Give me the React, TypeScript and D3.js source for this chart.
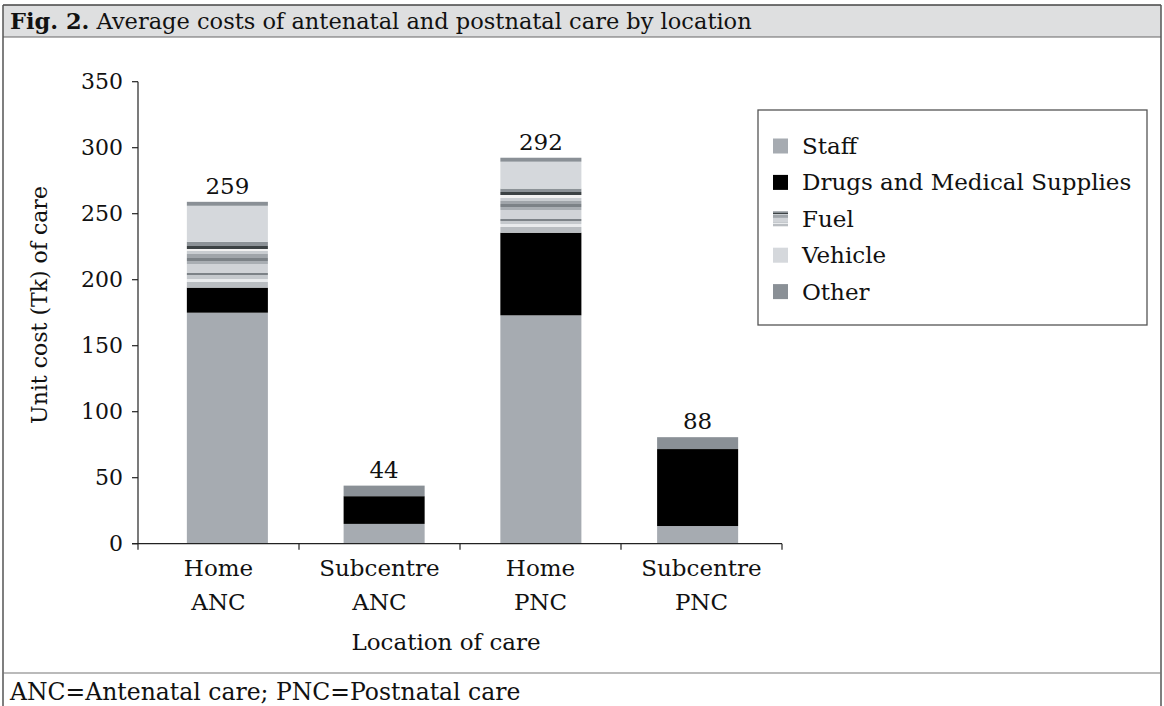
import React from "react";
import * as d3 from "d3";

const categories = ["Home ANC", "Subcentre ANC", "Home PNC", "Subcentre PNC"];
const categoryLines = [["Home", "ANC"], ["Subcentre", "ANC"], ["Home", "PNC"], ["Subcentre", "PNC"]];
const seriesNames = ["Staff", "Drugs and Medical Supplies", "Fuel", "Vehicle", "Other"];
const staff = [175, 15, 173, 13.4];
const drugs = [19, 21, 62.6, 58.3];
const fuel = [34.7, 0, 33.4, 0];
const vehicle = [27.3, 0, 20.4, 0];
const other = [3, 8, 3, 9];
const totalLabels = ["259", "44", "292", "88"];
const yTicks = [0, 50, 100, 150, 200, 250, 300, 350];

const W = 1164;
const H = 706;
const FONT = "'DejaVu Serif', 'Liberation Serif', serif";

const fills: Record<string, string> = {
  Staff: "#a6abb1",
  "Drugs and Medical Supplies": "#000000",
  Fuel: "url(#fuelGrad)",
  Vehicle: "#d5d8dc",
  Other: "#8a9096",
};

const fuelBands: [number, number, string][] = [
  [0, 0.082, "#8c9297"],
  [0.082, 0.15, "#3c4244"],
  [0.15, 0.204, "#f2f2f2"],
  [0.204, 0.272, "#c9cdd1"],
  [0.272, 0.354, "#a0a5aa"],
  [0.354, 0.408, "#7c8287"],
  [0.408, 0.476, "#a9aeb3"],
  [0.476, 0.68, "#d0d3d7"],
  [0.68, 0.735, "#7c8287"],
  [0.735, 0.803, "#c5c9cd"],
  [0.803, 0.871, "#e9ebed"],
  [0.871, 1, "#b9bdc1"],
];

export default function App() {
  const rows = categories.map((c, i) => ({
    cat: c,
    Staff: staff[i],
    "Drugs and Medical Supplies": drugs[i],
    Fuel: fuel[i],
    Vehicle: vehicle[i],
    Other: other[i],
  }));
  const stacked = d3.stack<any>().keys(seriesNames)(rows);

  const x = d3.scaleBand<string>().domain(categories).range([149, 776]).paddingInner(0.483).paddingOuter(0.2415);
  const xBand = d3.scaleBand<string>().domain(categories).range([138, 782]);
  const y = d3.scaleLinear().domain([0, 350]).range([543.7, 81.7]);

  const totals = rows.map((r) => seriesNames.reduce((s, k) => s + (r as any)[k], 0));

  const legendX = 773;
  const legendY0 = 146;
  const legendStep = 36.4;

  return (
    <svg width={W} height={H} style={{ position: "absolute", left: 0, top: 0, background: "#fff" }} fontFamily={FONT}>
      <defs>
        <linearGradient id="fuelGrad" x1="0" y1="0" x2="0" y2="1">
          {fuelBands.flatMap(([a, b, c], i) => [
            <stop key={"a" + i} offset={a} stopColor={c} />,
            <stop key={"b" + i} offset={b} stopColor={c} />,
          ])}
        </linearGradient>
      </defs>

      {/* frame */}
      <rect x={3} y={5} width={1158} height={32} fill="#dedfe0" />
      <line x1={3} y1={5} x2={1161} y2={5} stroke="#444" strokeWidth={1.5} />
      <line x1={3} y1={37} x2={1161} y2={37} stroke="#666" strokeWidth={1.2} />
      <line x1={3} y1={5} x2={3} y2={H} stroke="#555" strokeWidth={1.5} />
      <line x1={1161} y1={5} x2={1161} y2={H} stroke="#555" strokeWidth={1.5} />
      <line x1={3} y1={673} x2={1161} y2={673} stroke="#777" strokeWidth={1.2} />
      <text x={10} y={29} fontSize={22.5} fill="#111">
        <tspan fontWeight="bold">Fig. 2.</tspan>
        <tspan> Average costs of antenatal and postnatal care by location</tspan>
      </text>
      <text x={10} y={700} fontSize={23.5} fill="#111">ANC=Antenatal care; PNC=Postnatal care</text>

      {/* bars */}
      {stacked.map((s) => (
        <g key={s.key}>
          {s.map((d, i) =>
            d[1] - d[0] > 0 ? (
              <rect
                key={i}
                x={x(categories[i])}
                y={y(d[1])}
                width={x.bandwidth()}
                height={y(d[0]) - y(d[1])}
                fill={fills[s.key]}
              />
            ) : null
          )}
        </g>
      ))}

      {/* data labels */}
      {categories.map((c, i) => (
        <text key={c} x={(x(c) as number) + x.bandwidth() / 2} y={y(totals[i]) - 8} fontSize={23} textAnchor="middle" fill="#111">
          {totalLabels[i]}
        </text>
      ))}

      {/* y axis */}
      <line x1={138} y1={y(350)} x2={138} y2={y(0)} stroke="#222" strokeWidth={1.2} />
      {yTicks.map((t) => (
        <g key={t}>
          <line x1={132} x2={138} y1={y(t)} y2={y(t)} stroke="#222" strokeWidth={1.2} />
          <text x={123} y={y(t) + 7.5} fontSize={22} textAnchor="end" fill="#111">
            {t}
          </text>
        </g>
      ))}
      <text transform={`translate(47,305) rotate(-90)`} fontSize={22} textAnchor="middle" fill="#111">
        Unit cost (Tk) of care
      </text>

      {/* x axis */}
      <line x1={132} x2={782} y1={y(0)} y2={y(0)} stroke="#222" strokeWidth={1.2} />
      {categories.map((c, i) => (
        <g key={c}>
          <line x1={xBand(c)} x2={xBand(c)} y1={y(0)} y2={y(0) + 6} stroke="#222" strokeWidth={1.2} />
          {categoryLines[i].map((ln, j) => (
            <text key={j} x={(xBand(c) as number) + xBand.bandwidth() / 2} y={576 + j * 34} fontSize={23} textAnchor="middle" fill="#111">
              {ln}
            </text>
          ))}
        </g>
      ))}
      <line x1={782} x2={782} y1={y(0)} y2={y(0) + 6} stroke="#222" strokeWidth={1.2} />
      <text x={446} y={650} fontSize={23} textAnchor="middle" fill="#111">
        Location of care
      </text>

      {/* legend */}
      <rect x={758} y={110} width={389} height={215} fill="#fff" stroke="#555" strokeWidth={1.3} />
      {seriesNames.map((n, i) => (
        <g key={n}>
          <rect x={legendX} y={legendY0 + i * legendStep - 7.5} width={15} height={15} fill={fills[n]} />
          <text x={802} y={legendY0 + i * legendStep + 8} fontSize={23} fill="#111">
            {n}
          </text>
        </g>
      ))}
    </svg>
  );
}
